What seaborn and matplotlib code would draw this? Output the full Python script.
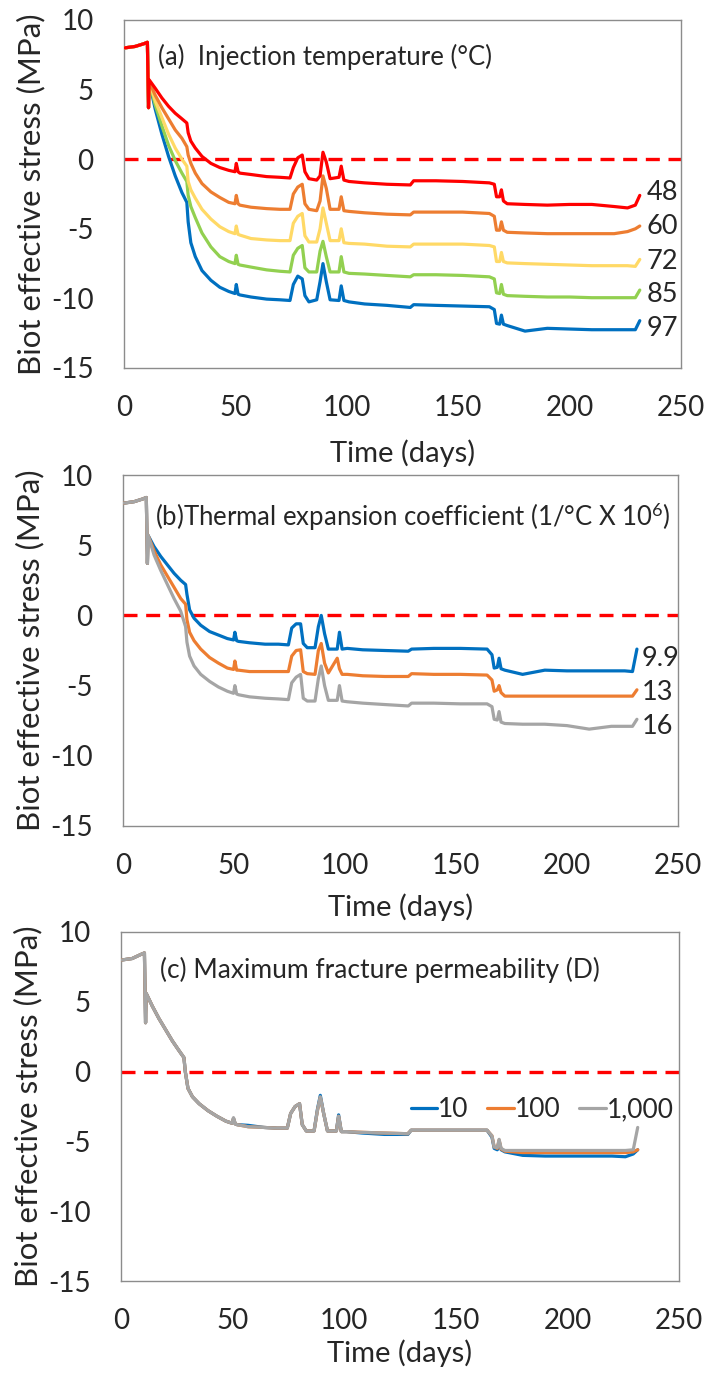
import matplotlib
matplotlib.use("Agg")
import matplotlib.pyplot as plt
import seaborn as sns

# ---- data ---------------------------------------------------------------
TIME_DAYS = [0.5, 5, 9, 10.5, 11.0, 11.3, 14, 17, 20, 23, 26, 28.2, 28.8, 30, 32,
             35, 39, 43, 47, 49.8, 50.4, 51.2, 52, 57, 64, 70, 74.5, 76, 78, 80,
             81.2, 83, 86.5, 88, 89.3, 90.8, 92.5, 96.5, 97.5, 98.7, 101, 108, 118,
             128.5, 130, 140, 152, 164, 166.2, 167.2, 168.6, 169.4, 170.3, 172,
             180, 190, 200, 210, 220, 226, 229.5, 231.5]

# (a) injection temperature (deg C)
TEMP_LABELS = ["48", "60", "72", "85", "97"]
TEMP_48 = [8.0, 8.1, 8.3, 8.4, 3.7, 5.7, 5.1, 4.4, 3.8, 3.3, 2.9, 2.6, 1.9, 1.3, 0.8,
           0.2, -0.3, -0.6, -0.8, -0.9, -0.3, -0.9, -1.0, -1.1, -1.25, -1.3, -1.35, -0.6, 0.1, 0.3,
           -0.9, -1.4, -1.5, -1.2, 0.5, -0.2, -1.4, -1.3, -0.5, -1.5, -1.6, -1.7, -1.8,
           -1.85, -1.55, -1.55, -1.6, -1.7, -1.8, -2.7, -2.7, -2.2, -3.0, -3.2,
           -3.25, -3.3, -3.25, -3.25, -3.4, -3.5, -3.3, -2.6]
TEMP_60 = [8.0, 8.1, 8.3, 8.4, 3.7, 5.6, 4.6, 3.7, 2.9, 2.1, 1.5, 0.9, 0.3, -0.3, -1.0,
           -1.75, -2.35, -2.75, -3.1, -3.2, -2.6, -3.2, -3.3, -3.45, -3.55, -3.6, -3.6, -2.5, -2.0, -1.8,
           -3.2, -3.6, -3.7, -3.0, -1.2, -2.1, -3.6, -3.6, -2.7, -3.7, -3.75, -3.85, -3.95,
           -4.0, -3.8, -3.8, -3.8, -3.9, -4.1, -5.1, -5.1, -4.5, -5.1, -5.25,
           -5.3, -5.35, -5.35, -5.35, -5.35, -5.2, -5.0, -4.8]
TEMP_72 = [8.0, 8.1, 8.3, 8.4, 3.7, 5.6, 4.2, 3.0, 1.8, 0.8, 0.0, -0.5, -1.6, -2.2, -2.8,
           -3.6, -4.3, -4.85, -5.2, -5.35, -4.8, -5.4, -5.45, -5.7, -5.8, -5.85, -5.85, -4.6, -4.1, -3.9,
           -5.5, -5.95, -5.95, -5.0, -3.5, -4.6, -5.85, -5.85, -5.0, -6.0, -6.05, -6.1, -6.25,
           -6.3, -6.1, -6.1, -6.1, -6.2, -6.3, -7.35, -7.35, -6.7, -7.35, -7.45,
           -7.5, -7.55, -7.6, -7.65, -7.65, -7.65, -7.7, -7.2]
TEMP_85 = [8.0, 8.1, 8.3, 8.4, 3.7, 5.6, 3.9, 2.4, 1.0, -0.1, -1.0, -1.6, -2.6, -3.4, -4.2,
           -5.3, -6.3, -7.0, -7.35, -7.5, -6.9, -7.55, -7.6, -7.75, -7.95, -8.05, -8.1, -6.9, -6.4, -6.2,
           -7.8, -8.1, -8.1, -6.6, -5.9, -7.0, -8.1, -8.1, -7.0, -8.1, -8.2, -8.25, -8.35,
           -8.45, -8.3, -8.3, -8.35, -8.45, -8.6, -9.6, -9.65, -9.0, -9.7, -9.8,
           -9.85, -9.9, -9.9, -9.95, -9.95, -9.95, -9.95, -9.4]
TEMP_97 = [8.0, 8.1, 8.3, 8.4, 3.7, 5.6, 3.6, 1.8, 0.2, -1.2, -2.4, -3.1, -4.5, -6.0, -7.0,
           -8.0, -8.7, -9.2, -9.5, -9.65, -9.0, -9.7, -9.75, -9.9, -10.05, -10.1, -10.15, -9.0, -8.4, -8.6,
           -9.8, -10.25, -10.1, -8.8, -7.5, -8.8, -10.1, -10.15, -9.1, -10.15, -10.25, -10.4, -10.5,
           -10.65, -10.45, -10.5, -10.55, -10.6, -10.8, -11.8, -11.85, -11.2, -11.85, -11.95,
           -12.35, -12.15, -12.2, -12.25, -12.25, -12.25, -12.25, -11.6]

# (b) thermal expansion coefficient (1/deg C x 10^6)
TEC_LABELS = ["9.9", "13", "16"]
TEC_9_9 = [8.0, 8.1, 8.3, 8.4, 3.7, 5.7, 4.9, 4.2, 3.6, 3.0, 2.5, 2.2, 1.5, 0.4, -0.2,
           -0.7, -1.15, -1.4, -1.65, -1.75, -1.2, -1.8, -1.85, -1.95, -2.05, -2.05, -2.1, -0.9, -0.6, -0.6,
           -2.0, -2.3, -2.3, -0.8, 0.0, -1.3, -2.4, -2.4, -1.2, -2.4, -2.35, -2.45, -2.5,
           -2.55, -2.4, -2.35, -2.35, -2.4, -2.8, -3.75, -3.7, -3.05, -3.8, -3.9,
           -4.2, -3.9, -3.95, -3.95, -3.95, -3.95, -4.0, -2.4]
TEC_13 = [8.0, 8.1, 8.3, 8.4, 3.7, 5.7, 4.6, 3.6, 2.8, 2.0, 1.2, 0.8, -0.3, -1.2, -1.8,
          -2.4, -3.0, -3.4, -3.75, -3.85, -3.25, -3.9, -3.9, -4.0, -4.0, -4.0, -4.0, -2.9, -2.5, -2.45,
          -4.0, -4.15, -4.2, -2.5, -2.0, -3.4, -4.1, -3.05, -3.8, -4.2, -4.2, -4.3, -4.35,
          -4.35, -4.15, -4.2, -4.2, -4.25, -4.6, -5.4, -5.3, -5.0, -5.5, -5.75,
          -5.75, -5.75, -5.75, -5.75, -5.75, -5.75, -5.75, -5.3]
TEC_16 = [8.0, 8.1, 8.3, 8.4, 3.7, 5.7, 4.3, 3.2, 2.2, 1.2, 0.3, -0.8, -1.9, -2.9, -3.6,
          -4.2, -4.7, -5.1, -5.4, -5.55, -5.0, -5.6, -5.65, -5.8, -5.9, -5.95, -6.0, -4.8, -4.4, -4.2,
          -5.9, -6.1, -6.1, -4.5, -3.6, -5.0, -6.05, -6.05, -5.0, -6.1, -6.15, -6.25, -6.35,
          -6.45, -6.25, -6.25, -6.3, -6.3, -6.5, -7.4, -7.45, -6.85, -7.6, -7.7,
          -7.75, -7.75, -7.85, -8.1, -7.9, -7.9, -7.9, -7.4]

# (c) maximum fracture permeability (D)
PERM_LABELS = ["10", "100", "1,000"]
PERM_10 = [8.0, 8.1, 8.4, 8.5, 3.5, 5.6, 4.7, 3.8, 3.0, 2.2, 1.5, 1.0, 0.0, -1.2, -1.8,
           -2.3, -2.8, -3.2, -3.55, -3.7, -3.35, -3.75, -3.8, -3.85, -4.0, -4.05, -4.05, -3.0, -2.5, -2.3,
           -3.8, -4.25, -4.25, -2.7, -1.7, -3.0, -4.25, -4.25, -3.1, -4.3, -4.3, -4.4, -4.5,
           -4.5, -4.2, -4.2, -4.2, -4.2, -4.7, -5.5, -5.6, -5.0, -5.6, -5.75,
           -6.0, -6.05, -6.05, -6.05, -6.05, -6.1, -5.9, -5.6]
PERM_100 = [8.0, 8.1, 8.4, 8.5, 3.5, 5.6, 4.7, 3.8, 3.0, 2.2, 1.5, 1.0, 0.0, -1.2, -1.8,
            -2.3, -2.8, -3.2, -3.55, -3.7, -3.35, -3.75, -3.8, -3.95, -4.0, -4.05, -4.05, -3.0, -2.5, -2.3,
            -3.8, -4.25, -4.25, -2.8, -1.85, -3.0, -4.25, -4.25, -3.2, -4.3, -4.3, -4.35, -4.4,
            -4.45, -4.2, -4.2, -4.2, -4.2, -4.6, -5.4, -5.5, -4.9, -5.55, -5.7,
            -5.8, -5.8, -5.8, -5.8, -5.8, -5.8, -5.75, -5.6]
PERM_1000 = [8.0, 8.1, 8.4, 8.5, 3.5, 5.6, 4.7, 3.8, 3.0, 2.2, 1.5, 1.0, 0.0, -1.2, -1.8,
             -2.3, -2.8, -3.2, -3.55, -3.7, -3.3, -3.75, -3.8, -3.95, -4.0, -4.05, -4.05, -3.0, -2.5, -2.3,
             -3.8, -4.25, -4.25, -2.8, -1.8, -3.0, -4.25, -4.25, -3.2, -4.3, -4.3, -4.35, -4.4,
             -4.45, -4.2, -4.2, -4.2, -4.2, -4.6, -5.4, -5.45, -4.85, -5.5, -5.65,
             -5.65, -5.65, -5.65, -5.65, -5.65, -5.65, -5.6, -4.0]

X_TICKS = [0, 50, 100, 150, 200, 250]
Y_TICKS = [-15, -10, -5, 0, 5, 10]

# ---- style --------------------------------------------------------------
sns.set_theme(style="white")
plt.rcParams["font.family"] = ["Lato", "DejaVu Sans"]
plt.rcParams["axes.unicode_minus"] = False
plt.rcParams["mathtext.fontset"] = "custom"
plt.rcParams["mathtext.rm"] = "Lato"
plt.rcParams["mathtext.it"] = "Lato:italic"
plt.rcParams["mathtext.bf"] = "Lato:bold"

RED = "#FF0000"
ORANGE = "#ED7D31"
YELLOW = "#FFD966"
GREEN = "#92D050"
BLUE = "#0070C0"
GRAY = "#A5A5A5"
SPINE = "#8C8C8C"
LW = 2.3
TICK_FS = 20
END_FS = 19.5
XLABEL_FS = 21
YLABEL_FS = 22.5
NOTE_FS = 18.5

W, H = 710, 1374
fig = plt.figure(figsize=(W / 100, H / 100), dpi=100)


def box(left, right, top, bottom):
    return [left / W, 1 - bottom / H, (right - left) / W, (bottom - top) / H]


ax_a = fig.add_axes(box(124, 681, 20, 368))
ax_b = fig.add_axes(box(123, 678, 475, 826))
ax_c = fig.add_axes(box(121, 679, 932, 1281))


def style_axes(ax, xlabelpad):
    ax.set_xlim(0, 250)
    ax.set_ylim(-15, 10)
    ax.set_xticks(X_TICKS)
    ax.set_yticks(Y_TICKS)
    ax.tick_params(axis="x", length=0, pad=19.5, labelsize=TICK_FS)
    ax.tick_params(axis="y", length=0, pad=22, labelsize=TICK_FS)
    for s in ax.spines.values():
        s.set_visible(True)
        s.set_color(SPINE)
        s.set_linewidth(1.0)
    ax.grid(False)
    ax.set_xlabel("Time (days)", fontsize=XLABEL_FS, labelpad=xlabelpad)
    ax.set_ylabel("Biot effective stress (MPa)", fontsize=YLABEL_FS, labelpad=4)
    ax.axhline(0, color=RED, lw=2.4, dashes=(4.2, 2.6), zorder=1.5)


def draw(ax, series, colors, labels=None):
    for i, (vals, col) in enumerate(zip(series, colors)):
        sns.lineplot(x=TIME_DAYS, y=vals, ax=ax, color=col, lw=LW, sort=False,
                     estimator=None, legend=False,
                     label=None if labels is None else labels[i], zorder=2 + i)


# (a) injection temperature
style_axes(ax_a, 13.5)
temp_series = [TEMP_48, TEMP_60, TEMP_72, TEMP_85, TEMP_97]
temp_colors = [RED, ORANGE, YELLOW, GREEN, BLUE]
draw(ax_a, temp_series[::-1], temp_colors[::-1])
temp_label_y = [-2.36, -4.86, -7.36, -9.71, -12.14]
for lab, y in zip(TEMP_LABELS, temp_label_y):
    ax_a.text(234.5, y, lab, fontsize=END_FS, va="center", ha="left")
ax_a.text(15.3, 7.35, "(a)  Injection temperature (°C)", fontsize=NOTE_FS,
          va="center", ha="left")

# (b) thermal expansion coefficient
style_axes(ax_b, 10)
draw(ax_b, [TEC_9_9, TEC_13, TEC_16], [BLUE, ORANGE, GRAY])
tec_label_y = [-3.06, -5.48, -7.9]
for lab, y in zip(TEC_LABELS, tec_label_y):
    ax_b.text(233.5, y, lab, fontsize=END_FS, va="center", ha="left")
ax_b.text(14.4, 7.0, "(b)Thermal expansion coefficient (1/°C X 10$^{6}$)",
          fontsize=NOTE_FS, va="center", ha="left")

# (c) maximum fracture permeability
style_axes(ax_c, 4)
draw(ax_c, [PERM_10, PERM_100, PERM_1000], [BLUE, ORANGE, GRAY], PERM_LABELS)
ax_c.text(17.5, 7.25, "(c) Maximum fracture permeability (D)", fontsize=19,
          va="center", ha="left")
ax_c.legend(loc="center", bbox_to_anchor=(0.755, 0.49), ncol=3, frameon=False,
            fontsize=19, handlelength=1.0, handletextpad=0.05,
            columnspacing=0.7, borderpad=0.0)

fig.savefig("out.png", dpi=100)
